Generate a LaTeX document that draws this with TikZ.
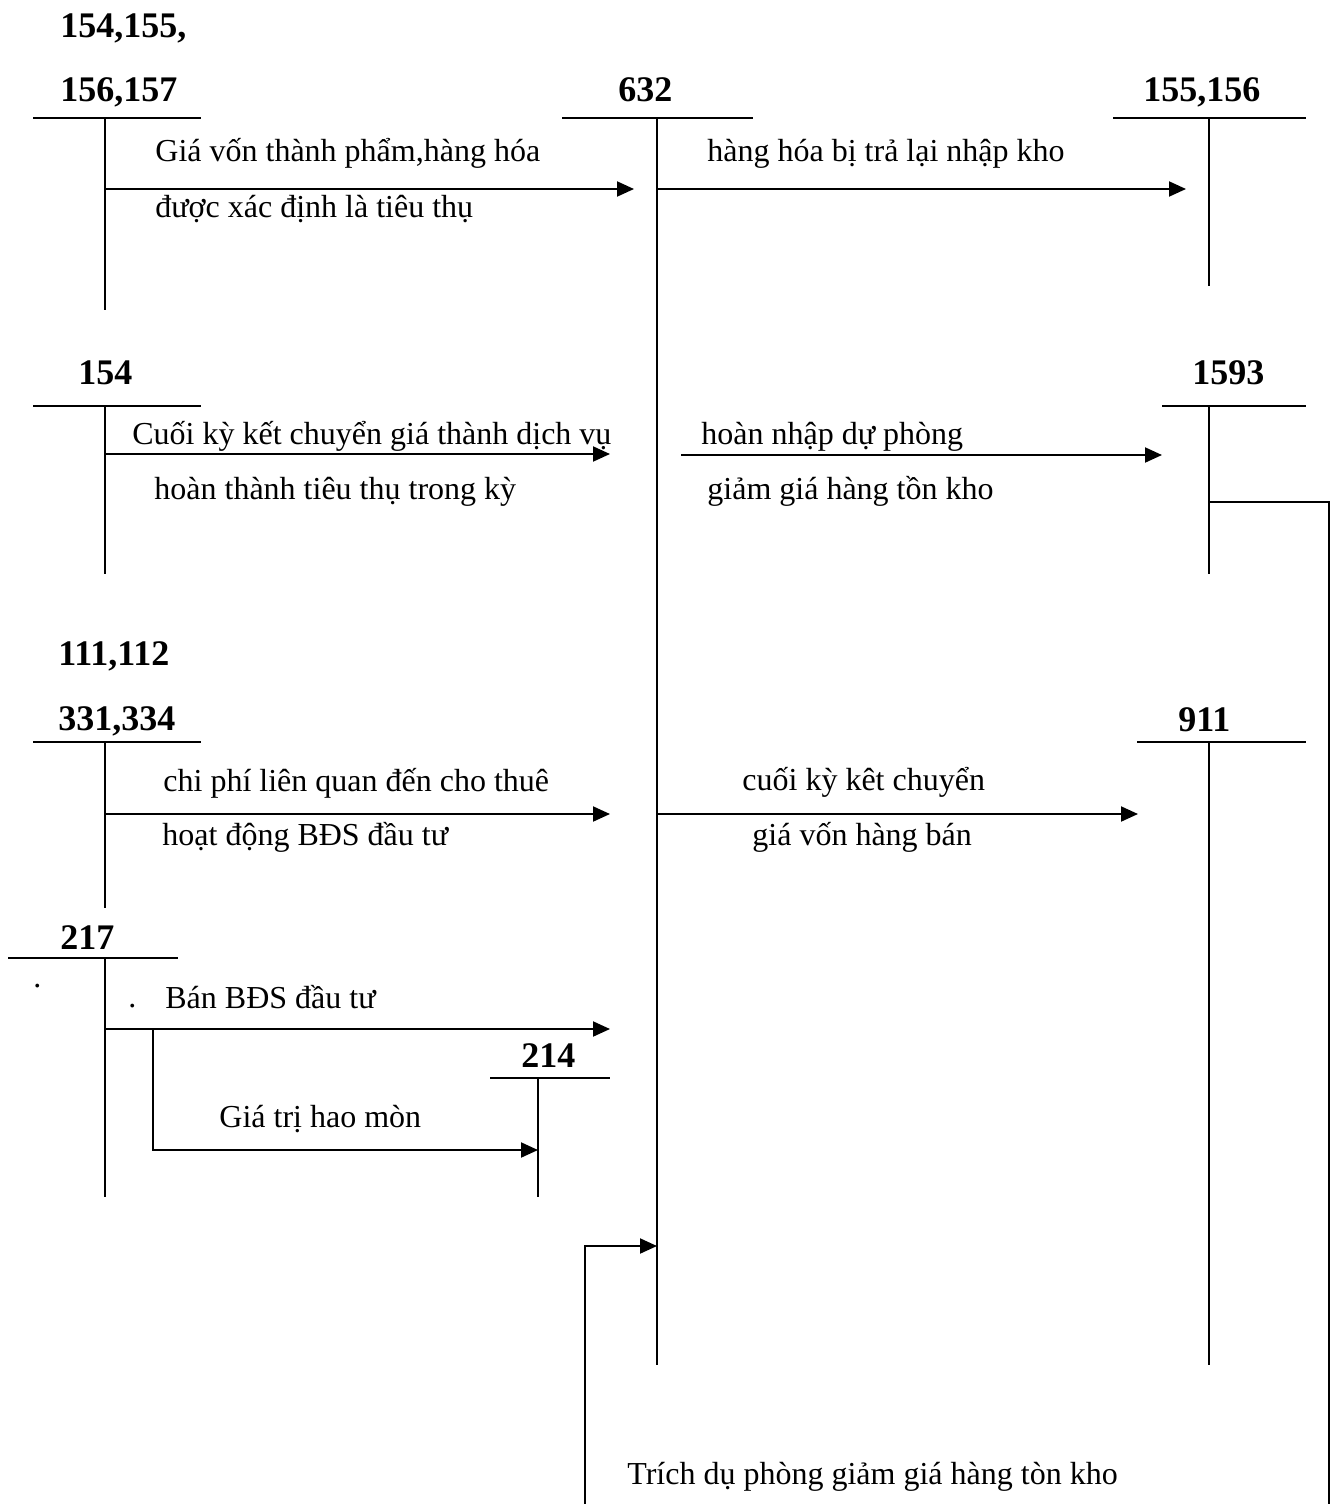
\documentclass[tikz,border=0pt]{standalone}
\usepackage{fontspec}
\setmainfont{Liberation Serif}
\usetikzlibrary{arrows.meta, positioning, calc}
\tikzset{
  t_line/.style={line width=1pt, black},
  acc_label/.style={anchor=base west, inner sep=0pt, font=\fontsize{18}{20}\selectfont\bfseries},
  entry_text/.style={anchor=base west, inner sep=0pt, font=\fontsize{16}{18}\selectfont},
  arrow/.style={-{Triangle[length=8.5pt,width=7.5pt]}, line width=1pt, black},
  connect/.style={-, line width=1pt, black}
}

\begin{document}
\begin{tikzpicture}[x=0.5pt, y=-0.5pt]
    \useasboundingbox (0,0) rectangle (1338,1504);

    % 1. Account headings
    \node[acc_label] (lbl_154a) at (60,38) {154,155,};
    \node[acc_label] (lbl_156) at (60,102) {156,157};
    \node[acc_label] (lbl_632) at (618,102) {632};
    \node[acc_label] (lbl_155) at (1143,102) {155,156};
    \node[acc_label] (lbl_154) at (78,384) {154};
    \node[acc_label] (lbl_1593) at (1192,384) {1593};
    \node[acc_label] (lbl_111) at (58,665) {111,112};
    \node[acc_label] (lbl_331) at (58,730) {331,334};
    \node[acc_label] (lbl_911) at (1178,731) {911};
    \node[acc_label] (lbl_217) at (60,949) {217};
    \node[acc_label] (lbl_214) at (521,1067) {214};

    % 2. T-accounts (bar ends, stem top, stem bottom)
    \coordinate (a_l) at (33,118);    \coordinate (a_r) at (201,118);
    \coordinate (a_t) at (105,118);   \coordinate (a_b) at (105,310);
    \coordinate (m_l) at (562,118);   \coordinate (m_r) at (753,118);
    \coordinate (m_t) at (657,118);   \coordinate (m_b) at (657,1365);
    \coordinate (k_l) at (1113,118);  \coordinate (k_r) at (1306,118);
    \coordinate (k_t) at (1209,118);  \coordinate (k_b) at (1209,286);
    \coordinate (s_l) at (33,406);    \coordinate (s_r) at (201,406);
    \coordinate (s_t) at (105,406);   \coordinate (s_b) at (105,574);
    \coordinate (d_l) at (1162,406);  \coordinate (d_r) at (1306,406);
    \coordinate (d_t) at (1209,406);  \coordinate (d_b) at (1209,574);
    \coordinate (c_l) at (33,742);    \coordinate (c_r) at (201,742);
    \coordinate (c_t) at (105,742);   \coordinate (c_b) at (105,908);
    \coordinate (x_l) at (1137,742);  \coordinate (x_r) at (1306,742);
    \coordinate (x_t) at (1209,742);  \coordinate (x_b) at (1209,1365);
    \coordinate (b_l) at (8,958);     \coordinate (b_r) at (178,958);
    \coordinate (b_t) at (105,958);   \coordinate (b_b) at (105,1197);
    \coordinate (h_l) at (490,1078);  \coordinate (h_r) at (610,1078);
    \coordinate (h_t) at (538,1078);  \coordinate (h_b) at (538,1197);

    \foreach \acc in {a,m,k,s,d,c,x,b,h} {
        \draw[t_line] (\acc_l) -- (\acc_r);
        \draw[t_line] (\acc_t) -- (\acc_b);
    }

    % 3. Entries into 632
    \coordinate (e1_s) at (105,189);  \coordinate (e1_e) at (634,189);
    \draw[arrow] (e1_s) -- (e1_e);
    \node[entry_text] (txt_e1a) at (155,162) {Giá vốn thành phẩm,hàng hóa};
    \node[entry_text] (txt_e1b) at (155,217) {được xác định là tiêu thụ};

    \coordinate (e3_s) at (105,454);  \coordinate (e3_e) at (610,454);
    \draw[arrow] (e3_s) -- (e3_e);
    \node[entry_text] (txt_e3a) at (132,444) {Cuối kỳ kết chuyển giá thành dịch vụ};
    \node[entry_text] (txt_e3b) at (154,499) {hoàn thành tiêu thụ trong kỳ};

    \coordinate (e5_s) at (105,814);  \coordinate (e5_e) at (610,814);
    \draw[arrow] (e5_s) -- (e5_e);
    \node[entry_text] (txt_e5a) at (163,791) {chi phí liên quan đến cho thuê};
    \node[entry_text] (txt_e5b) at (162,845) {hoạt động BĐS đầu tư};

    \coordinate (e7_s) at (105,1029); \coordinate (e7_e) at (610,1029);
    \draw[arrow] (e7_s) -- (e7_e);
    \node[entry_text] (txt_e7) at (165,1008) {Bán BĐS đầu tư};
    \node[entry_text] (dot_a) at (33,987) {.};
    \node[entry_text] (dot_b) at (128,1007) {.};

    % depreciation branch to 214
    \coordinate (e8_s) at (153,1029); \coordinate (e8_e) at (538,1150);
    \draw[arrow] (e8_s) |- (e8_e);
    \node[entry_text] (txt_e8) at (219,1127) {Giá trị hao mòn};

    % 4. Entries out of 632
    \coordinate (e2_s) at (657,189);  \coordinate (e2_e) at (1186,189);
    \draw[arrow] (e2_s) -- (e2_e);
    \node[entry_text] (txt_e2) at (707,162) {hàng hóa bị trả lại nhập kho};

    \coordinate (e4_s) at (681,455);  \coordinate (e4_e) at (1162,455);
    \draw[arrow] (e4_s) -- (e4_e);
    \node[entry_text] (txt_e4a) at (701,444) {hoàn nhập dự phòng};
    \node[entry_text] (txt_e4b) at (707,499) {giảm giá hàng tồn kho};

    \coordinate (e6_s) at (657,814);  \coordinate (e6_e) at (1138,814);
    \draw[arrow] (e6_s) -- (e6_e);
    \node[entry_text] (txt_e6a) at (742,790) {cuối kỳ kêt chuyển};
    \node[entry_text] (txt_e6b) at (752,845) {giá vốn hàng bán};

    % 5. Provision loop from 1593 back to 632
    \coordinate (p_s) at (1209,502);  \coordinate (p_r) at (1329,1504);
    \coordinate (p_l) at (585,1504);  \coordinate (p_e) at (657,1246);
    \draw[connect] (p_s) -| (p_r);
    \draw[arrow] (p_l) |- (p_e);
    \node[entry_text] (txt_p) at (627,1484) {Trích dụ phòng giảm giá hàng tòn kho};

\end{tikzpicture}
\end{document}
